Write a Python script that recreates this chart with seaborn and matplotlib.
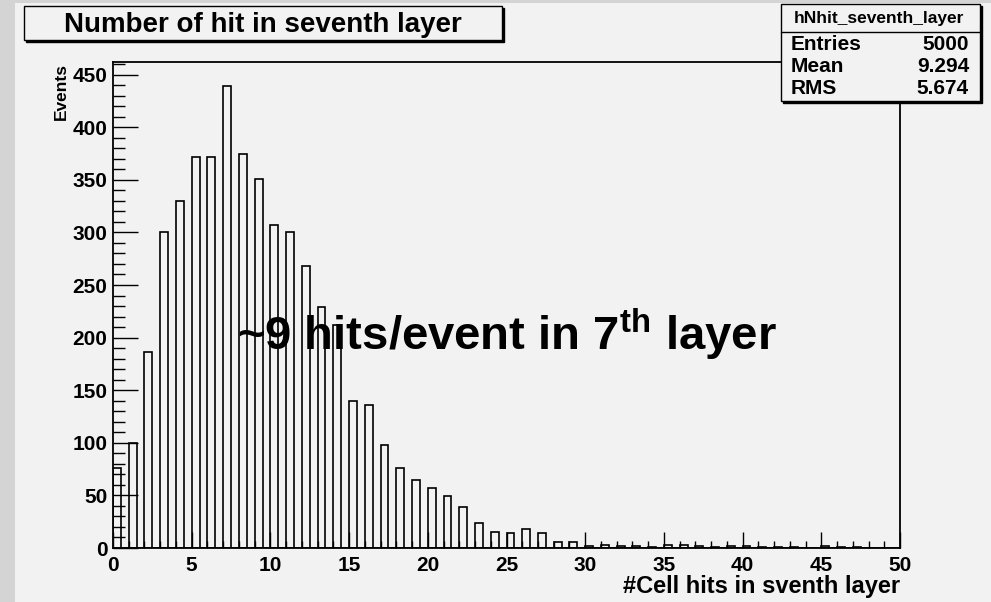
import numpy as np
import pandas as pd
import matplotlib
matplotlib.use("Agg")
import matplotlib.pyplot as plt
from matplotlib.patches import Rectangle
import seaborn as sns

# ---- data ----
hits = list(range(0, 50))
counts = [76, 100, 186, 300, 330, 372, 372, 439, 375, 351,
          307, 300, 268, 229, 212, 140, 136, 98, 76, 65,
          57, 49, 39, 24, 15, 14, 18, 14, 6, 6,
          2, 3, 2, 2, 1, 3, 3, 2, 1, 2,
          2, 1, 1, 1, 0, 2, 1, 1, 0, 0]
xticks = list(range(0, 51, 5))
yticks = list(range(0, 451, 50))
title = "Number of hit in seventh layer"
stats_name = "hNhit_seventh_layer"
stats_rows = [("Entries", "5000"), ("Mean", "9.294"), ("RMS", "5.674")]
xlabel = "#Cell hits in sventh layer"
ylabel = "Events"
note = r"~9 hits/event in 7$^{th}$ layer"

df = pd.DataFrame({"hits": hits, "counts": counts})

sns.set_theme(style="ticks")
plt.rcParams["font.family"] = ["Liberation Sans", "DejaVu Sans"]
plt.rcParams["font.weight"] = "bold"
plt.rcParams["text.color"] = "black"
plt.rcParams["xtick.color"] = "black"
plt.rcParams["ytick.color"] = "black"
plt.rcParams["mathtext.fontset"] = "custom"
plt.rcParams["mathtext.rm"] = "Liberation Sans:bold"
plt.rcParams["mathtext.bf"] = "Liberation Sans:bold"
plt.rcParams["mathtext.default"] = "rm"

W, H = 991, 602
BG = "#f2f2f2"


def fx(px):
    return px / W


def fy(py):
    return 1 - py / H


fig = plt.figure(figsize=(W / 100, H / 100), dpi=100, facecolor=BG)
# gray frame strips
fig.add_artist(Rectangle((0, 0), fx(15), 1, transform=fig.transFigure,
                         facecolor="#d4d4d4", edgecolor="none", zorder=0))
fig.add_artist(Rectangle((0, fy(3)), 1, 1 - fy(3), transform=fig.transFigure,
                         facecolor="#d4d4d4", edgecolor="none", zorder=0))

ax = fig.add_axes([fx(113), fy(548), fx(900) - fx(113), fy(62) - fy(548)])
ax.set_facecolor(BG)

sns.histplot(data=df, x="hits", weights="counts", binwidth=0.5, binrange=(0, 50),
             fill=False, color="black", linewidth=1.2, element="bars", ax=ax)

ax.set_xlim(0, 50)
ax.set_ylim(0, 462)
ax.set_xticks(xticks)
ax.set_xticks(range(0, 51, 1), minor=True)
ax.set_yticks(yticks)
ax.set_yticks(range(0, 461, 10), minor=True)
ax.set_xticklabels([str(t) for t in xticks], fontsize=15, fontweight="bold")
ax.set_yticklabels([str(t) for t in yticks], fontsize=15, fontweight="bold")
ax.tick_params(axis="x", which="major", direction="in", length=11.5, width=1.0, pad=6,
               color="black", labelcolor="black")
ax.tick_params(axis="x", which="minor", direction="in", length=5, width=1.0, color="black")
ax.tick_params(axis="y", which="major", direction="in", length=18, width=1.0, pad=4,
               color="black", labelcolor="black")
ax.tick_params(axis="y", which="minor", direction="in", length=8.5, width=1.0, color="black")
ax.set_xlabel("")
ax.set_ylabel("")
for s in ax.spines.values():
    s.set_visible(True)
    s.set_color("black")
    s.set_linewidth(1.3)

# axis titles
fig.text(fx(900), fy(587), xlabel, ha="right", va="center", fontsize=17, fontweight="bold")
fig.text(fx(61), fy(63), ylabel, ha="center", va="top", rotation=90, fontsize=12.5,
         fontweight="bold")

# title box with shadow
fig.add_artist(Rectangle((fx(26), fy(42)), fx(504) - fx(26), fy(8) - fy(42), transform=fig.transFigure,
                         facecolor="black", edgecolor="black", lw=1, zorder=4))
fig.add_artist(Rectangle((fx(24), fy(40)), fx(502) - fx(24), fy(6) - fy(40), transform=fig.transFigure,
                         facecolor=BG, edgecolor="black", lw=1, zorder=4))
fig.text(fx(263), fy(24.5), title, ha="center", va="center", fontsize=20,
         fontweight="bold", zorder=5)

# stats box with shadow
fig.add_artist(Rectangle((fx(783), fy(103)), fx(982) - fx(783), fy(6) - fy(103), transform=fig.transFigure,
                         facecolor="black", edgecolor="black", lw=1, zorder=4))
fig.add_artist(Rectangle((fx(781), fy(101)), fx(980) - fx(781), fy(4) - fy(101), transform=fig.transFigure,
                         facecolor=BG, edgecolor="black", lw=1, zorder=4))
fig.add_artist(plt.Line2D([fx(781), fx(980)], [fy(32), fy(32)], transform=fig.transFigure,
                          color="black", lw=1, zorder=5))
fig.text(fx(879), fy(18), stats_name, ha="center", va="center", fontsize=12.5,
         fontweight="bold", zorder=5)
row_y = [44, 67, 89]
for (lab, val), yy in zip(stats_rows, row_y):
    fig.text(fx(791), fy(yy), lab, ha="left", va="center", fontsize=15,
             fontweight="bold", zorder=5)
    fig.text(fx(969), fy(yy), val, ha="right", va="center", fontsize=15,
             fontweight="bold", zorder=5)

# annotation
fig.text(fx(237), fy(350), note, ha="left", va="baseline", fontsize=34, fontweight="bold",
         color="black", zorder=5)

fig.savefig("out.png", dpi=100, facecolor=BG)
